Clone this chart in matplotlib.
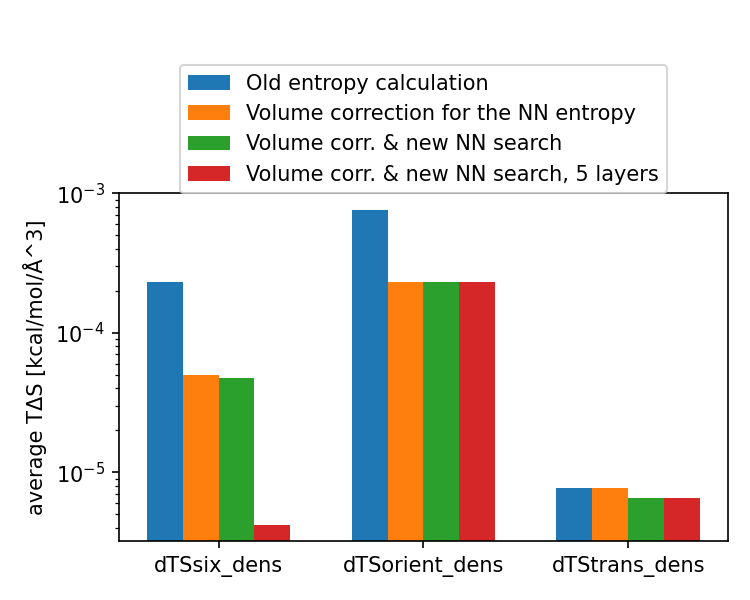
import numpy as np
import matplotlib
matplotlib.use('Agg')
import matplotlib.pyplot as plt

#%% data
categories = ['dTSsix_dens', 'dTSorient_dens', 'dTStrans_dens']
labels = ['Old entropy calculation',
          'Volume correction for the NN entropy',
          'Volume corr. & new NN search',
          'Volume corr. & new NN search, 5 layers']
old_entropy = [2.30e-4, 7.64e-4, 7.77e-6]
vol_corr = [4.99e-5, 2.30e-4, 7.77e-6]
vol_corr_nn = [4.75e-5, 2.30e-4, 6.59e-6]
vol_corr_nn_5 = [4.16e-6, 2.30e-4, 6.59e-6]

#%%
fig, ax = plt.subplots(figsize=(5, 4), dpi=150)
fig.subplots_adjust(left=0.159, right=0.970, top=0.678, bottom=0.098)

x = np.arange(len(categories))
width = 0.175
series = [old_entropy, vol_corr, vol_corr_nn, vol_corr_nn_5]
for i, (vals, lab) in enumerate(zip(series, labels)):
    ax.bar(x + (i - 1.5) * width, vals, width, label=lab)

ax.set_yscale('log')
ax.set_ylim(3.21e-6, 1.0e-3)
ax.set_xticks(x)
ax.set_xticklabels(categories)
ax.set_ylabel('average T\u0394S [kcal/mol/\u00c5^3]')
ax.legend(loc='lower center', bbox_to_anchor=(0.5, 1.0), borderaxespad=0)

plt.savefig('out.png', dpi=150)
